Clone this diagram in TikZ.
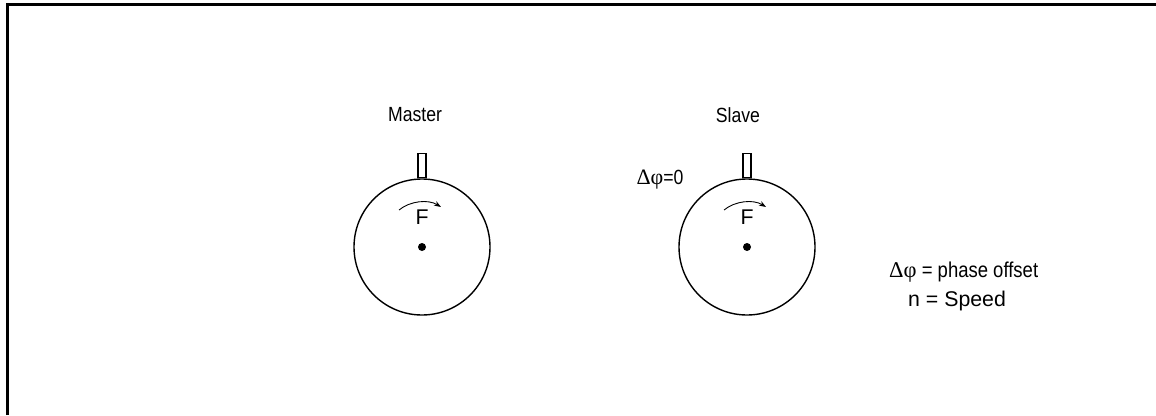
\documentclass[tikz,border=0pt]{standalone}
\usepackage{fontspec}
\setmainfont{Liberation Sans}
\newfontfamily\narrowfont[FakeStretch=0.86]{Liberation Sans}
\newfontfamily\grk{Liberation Serif}
\usetikzlibrary{arrows.meta}
\begin{document}
\begin{tikzpicture}[x=1pt,y=-1pt,
  wheel/.style={circle,draw,line width=1.4pt,minimum size=136pt,inner sep=0pt},
  tab/.style={rectangle,draw,line width=1.1pt,minimum width=8pt,minimum height=24pt,inner sep=0pt,anchor=south},
  hub/.style={circle,fill,minimum size=8pt,inner sep=0pt},
  lbl/.style={font=\narrowfont\fontsize{20.5}{24}\selectfont,inner sep=0pt},
  ftxt/.style={font=\fontsize{21.3}{25}\selectfont,inner sep=0pt},
  rot/.style={line width=0.9pt,-{Stealth[length=7pt,width=5pt]}}]
\useasboundingbox (0,0) rectangle (1156,415);
\draw[line width=2.6pt] (7.3,415) -- (7.3,4.3) -- (1156,4.3);
% master
\node[wheel] (m) at (422,247) {};
\node[tab] (mt) at (m.north) {};
\node[hub] (mh) at (422,247) {};
\node[ftxt] (mf) at (422,217) {F};
\node[lbl] (ml) at (415,115) {Master};
\draw[rot] (399,210) .. controls (410,201) and (428,199) .. (441,207);
% slave
\node[wheel] (s) at (747,247) {};
\node[tab] (st) at (s.north) {};
\node[hub] (sh) at (747,247) {};
\node[ftxt] (sf) at (747,217) {F};
\node[lbl] (sl) at (738,115) {Slave};
\draw[rot] (724,210) .. controls (735,201) and (753,199) .. (766,207);
\node[lbl] (dp) at (660,180) {{\grk\fontsize{22}{24}\selectfont Δφ}=0};
% legend
\node[lbl,anchor=west,font=\narrowfont\fontsize{21.5}{24}\selectfont] (l1) at (889,272) {{\grk\fontsize{22.5}{24}\selectfont Δφ} = phase offset};
\node[ftxt,anchor=west] (l2) at (908,301) {n = Speed};
\end{tikzpicture}
\end{document}
